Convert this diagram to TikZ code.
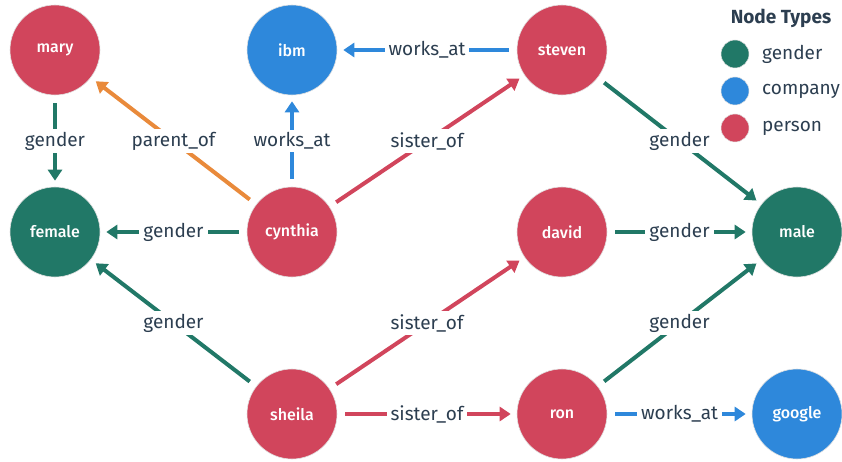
\documentclass[tikz,border=0pt]{standalone}
\usepackage{fontspec}
\setmainfont{Fira Sans}
\newfontfamily\medfont{Fira Sans}[UprightFont={* Medium}]
\usetikzlibrary{arrows.meta}
\definecolor{cgreen}{HTML}{217867}
\definecolor{cblue}{HTML}{2E88DB}
\definecolor{cred}{HTML}{D1455C}
\definecolor{corange}{HTML}{E98A3B}
\definecolor{ctxt}{HTML}{2C3E50}
\tikzset{
  nd/.style={circle, minimum size=90pt, inner sep=0pt, text=white, font=\fontsize{16}{18}\medfont, draw=black!12, line width=0.6pt},
  gendernd/.style={nd, fill=cgreen},
  companynd/.style={nd, fill=cblue},
  personnd/.style={nd, fill=cred},
  edge/.style={line width=4pt, -{Triangle[length=11pt,width=14pt]}, shorten <=8pt, shorten >=6pt},
  lab/.style={fill=white, text=ctxt, font=\fontsize{19}{21}\selectfont, inner xsep=4pt, inner ysep=3pt},
  legdot/.style={circle, minimum size=28pt, inner sep=0pt, draw=black!12, line width=0.5pt},
  legtxt/.style={anchor=west, text=ctxt, font=\fontsize{19}{21}\selectfont, inner sep=0pt}
}
\begin{document}
\begin{tikzpicture}[x=1pt,y=-1pt]
\useasboundingbox (0,0) rectangle (842,462);
% nodes
\node[personnd] (mary) at (55,50) {mary};
\node[companynd] (ibm) at (292,50) {ibm};
\node[personnd] (steven) at (562,50) {steven};
\node[gendernd] (female) at (55,232) {female};
\node[personnd] (cynthia) at (292,232) {cynthia};
\node[personnd] (david) at (562,232) {david};
\node[gendernd] (male) at (797,232) {male};
\node[personnd] (sheila) at (292,414) {sheila};
\node[personnd] (ron) at (562,414) {ron};
\node[companynd] (google) at (797,414) {google};
% edges
\draw[edge, cgreen] (mary) -- node[lab]{gender} (female);
\draw[edge, corange] (cynthia) -- node[lab]{parent\_of} (mary);
\draw[edge, cblue] (cynthia) -- node[lab]{works\_at} (ibm);
\draw[edge, cgreen] (cynthia) -- node[lab]{gender} (female);
\draw[edge, cred] (cynthia) -- node[lab]{sister\_of} (steven);
\draw[edge, cblue] (steven) -- node[lab]{works\_at} (ibm);
\draw[edge, cgreen] (steven) -- node[lab]{gender} (male);
\draw[edge, cgreen] (david) -- node[lab]{gender} (male);
\draw[edge, cgreen] (sheila) -- node[lab]{gender} (female);
\draw[edge, cred] (sheila) -- node[lab]{sister\_of} (david);
\draw[edge, cred] (sheila) -- node[lab]{sister\_of} (ron);
\draw[edge, cgreen] (ron) -- node[lab]{gender} (male);
\draw[edge, cblue] (ron) -- node[lab]{works\_at} (google);
% legend
\node[text=ctxt, font=\fontsize{19}{21}\selectfont\bfseries] (legtitle) at (781,18) {Node Types};
\node[legdot, fill=cgreen] (lg1) at (735,54) {};
\node[legtxt] (lt1) at (762,54) {gender};
\node[legdot, fill=cblue] (lg2) at (735,91) {};
\node[legtxt] (lt2) at (762,91) {company};
\node[legdot, fill=cred] (lg3) at (735,128) {};
\node[legtxt] (lt3) at (762,128) {person};
\end{tikzpicture}
\end{document}
